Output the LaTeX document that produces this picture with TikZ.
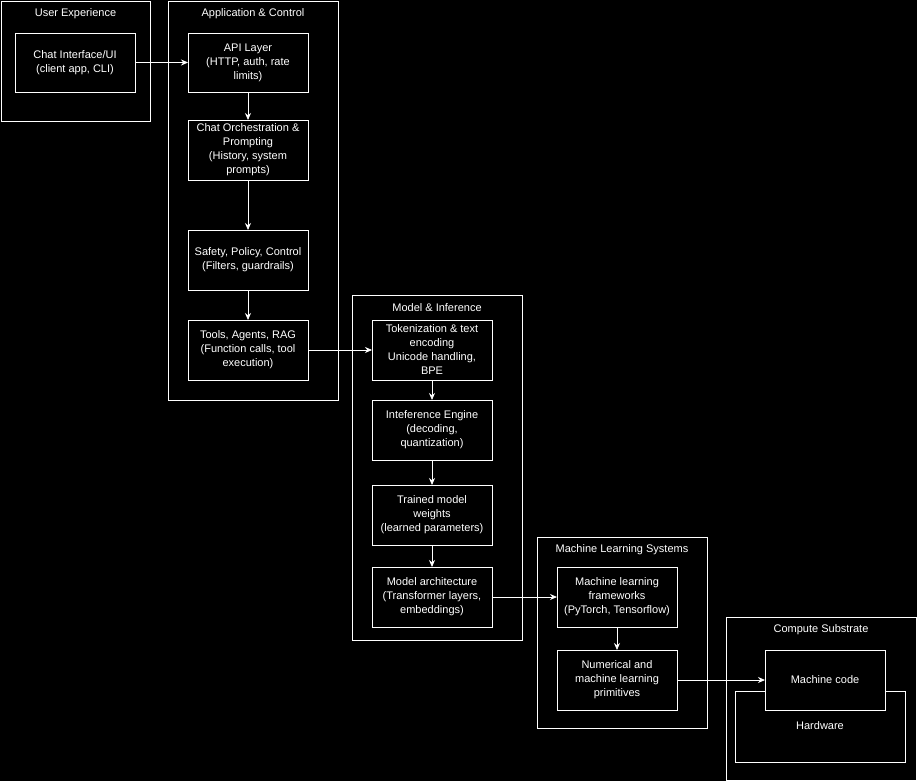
\documentclass[tikz,border=0pt]{standalone}
\usepackage{fontspec}
\setmainfont{Liberation Sans}
\usetikzlibrary{arrows.meta}
\begin{document}
\begin{tikzpicture}[x=1pt,y=-1pt,
  box/.style={draw=white,fill=black,line width=0.8pt},
  txt/.style={text=white,align=center,font=\fontsize{11}{14}\selectfont,inner sep=0pt},
  arr/.style={draw=white,line width=0.8pt,-{Stealth[length=7pt,width=6pt]}}]
\fill[black] (0,0) rectangle (917,781);
\useasboundingbox (0,0) rectangle (917,781);
% groups
\draw[box] (1,1) rectangle (150,121);
\node[txt] (gux) at (75.5,14) {User Experience};
\draw[box] (168,1) rectangle (338,400);
\node[txt] (gac) at (253,14) {Application \& Control};
\draw[box] (352,295) rectangle (522,640);
\node[txt] (gmi) at (437,308) {Model \& Inference};
\draw[box] (537,537) rectangle (707,728);
\node[txt] (gml) at (622,550) {Machine Learning Systems};
\draw[box] (726,617) rectangle (916,780);
\node[txt] (gcs) at (821,630) {Compute Substrate};
% nodes
\newcommand{\bx}[6]{\draw[box] (#2,#3) rectangle (#4,#5); \node[txt] (#1) at ({(#2+#4)/2},{(#3+#5)/2}) {#6};
 \coordinate (#1w) at (#2,{(#3+#5)/2}); \coordinate (#1e) at (#4,{(#3+#5)/2});
 \coordinate (#1n) at ({(#2+#4)/2},#3); \coordinate (#1s) at ({(#2+#4)/2},#5);}
\bx{chat}{15}{33}{135}{92}{Chat Interface/UI\\(client app, CLI)}
\bx{api}{188}{33}{308}{92}{API Layer\\(HTTP, auth, rate\\limits)}
\bx{orch}{188}{120}{308}{180}{Chat Orchestration \&\\Prompting\\(History, system\\prompts)}
\bx{safe}{188}{230}{308}{290}{Safety, Policy, Control\\(Filters, guardrails)}
\bx{tools}{188}{320}{308}{380}{Tools, Agents, RAG\\(Function calls, tool\\execution)}
\bx{tok}{372}{320}{492}{380}{Tokenization \& text\\encoding\\Unicode handling,\\BPE}
\bx{inf}{372}{400}{492}{460}{Inteference Engine\\(decoding,\\quantization)}
\bx{trn}{372}{485}{492}{545}{Trained model\\weights\\(learned parameters)}
\bx{arch}{372}{567}{492}{627}{Model architecture\\(Transformer layers,\\embeddings)}
\bx{fw}{557}{567}{677}{627}{Machine learning\\frameworks\\(PyTorch, Tensorflow)}
\bx{num}{557}{650}{677}{710}{Numerical and\\machine learning\\primitives}
\draw[box] (735,691) rectangle (905,762);
\node[txt] (hw) at (820,726) {Hardware};
\bx{mc}{765}{650}{885}{710}{Machine code}
% arrows
\draw[arr] (chate) -- (apiw);
\draw[arr] (apis) -- (orchn);
\draw[arr] (orchs) -- (safen);
\draw[arr] (safes) -- (toolsn);
\draw[arr] (toolse) -- (tokw);
\draw[arr] (toks) -- (infn);
\draw[arr] (infs) -- (trnn);
\draw[arr] (trns) -- (archn);
\draw[arr] (arche) -- (fww);
\draw[arr] (fws) -- (numn);
\draw[arr] (nume) -- (mcw);
\end{tikzpicture}
\end{document}
